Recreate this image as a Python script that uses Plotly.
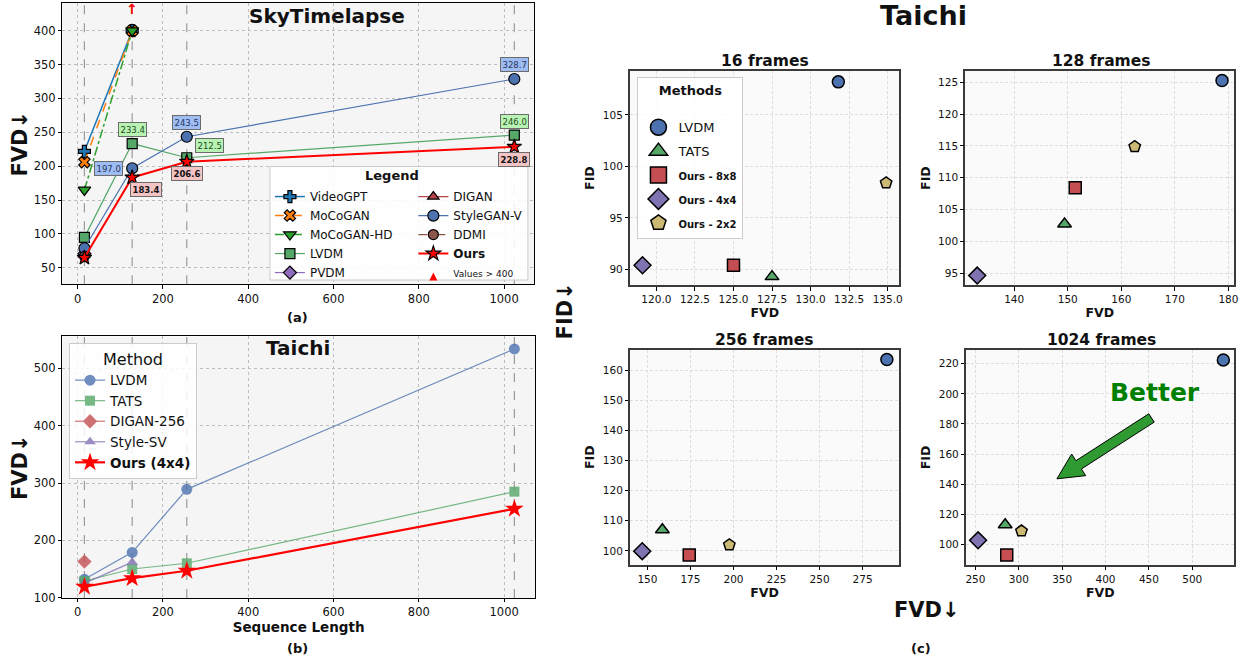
import plotly.graph_objects as go

W, H = 1251, 666
FONT = "DejaVu Sans"
INK = "#111111"

# ---------------- data ----------------
seq_lengths = [16, 128, 256, 1024]

# (a) SkyTimelapse FVD (values > 400 are shown clipped at 400)
sky_clip_value = 400
sky_videogpt = [222, 400]
sky_mocogan = [206, 400]
sky_mocogan_hd = [165, 400]
sky_lvdm = [95.0, 233.4, 212.5, 246.0]
sky_pvdm = [71]
sky_digan = [69]
sky_stylegan_v = [79.0, 197.0, 243.5, 328.7]
sky_ddmi = [67]
sky_ours = [65.0, 183.4, 206.6, 228.8]

# (b) Taichi FVD
taichi_lvdm = [132, 179, 289, 534]
taichi_tats = [129, 150, 160, 285]
taichi_digan_256 = [163]
taichi_style_sv = [125, 162]
taichi_ours = [119, 134, 147, 255]

# (c) Taichi FVD vs FID
c_methods = ["LVDM", "TATS", "Ours - 8x8", "Ours - 4x4", "Ours - 2x2"]
frame_titles = ["16 frames", "128 frames", "256 frames", "1024 frames"]
fvd_16 = [131.8, 127.5, 125.0, 119.1, 134.9]
fid_16 = [108.2, 89.3, 90.4, 90.4, 98.4]
fvd_128 = [178.8, 149.4, 151.4, 133.1, 162.5]
fid_128 = [125.3, 102.7, 108.4, 94.6, 114.9]
fvd_256 = [289.1, 158.7, 174.3, 147.0, 197.6]
fid_256 = [163.6, 107.0, 98.6, 99.9, 102.0]
fvd_1024 = [535.8, 284.3, 286.1, 253.1, 303.1]
fid_1024 = [222.6, 113.0, 92.8, 102.6, 108.8]

# ---------------- helpers ----------------
def xdom(l, r):
    return [l / W, r / W]

def ydom(t, b):
    return [1 - b / H, 1 - t / H]

def px(x):
    return x / W

def py(y):
    return 1 - y / H

def axis(domain, anchor, rng, dtick, tick0=0, tickfont=11.5, gridcolor="#bdbdbd",
         griddash="dot", linecolor="#000000", linewidth=1, title=None, title_size=12,
         standoff=None, tickformat=None):
    d = dict(domain=domain, anchor=anchor, range=rng, dtick=dtick, tick0=tick0,
             showline=True, mirror=True, linecolor=linecolor, linewidth=linewidth,
             ticks="outside", ticklen=3.5, tickwidth=1, tickcolor="#000000",
             tickfont=dict(size=tickfont, color=INK, family=FONT),
             showgrid=True, gridcolor=gridcolor, griddash=griddash, gridwidth=0.8,
             zeroline=False, fixedrange=True)
    if tickformat:
        d["tickformat"] = tickformat
    if title:
        t = dict(text=f"<b>{title}</b>", font=dict(size=title_size, color=INK, family=FONT))
        if standoff is not None:
            t["standoff"] = standoff
        d["title"] = t
    return d

fig = go.Figure()

# ---------------- panel (a) ----------------
def sky_trace(yvals, name, color, symbol, dash, lw, size, legend):
    return go.Scatter(x=seq_lengths[:len(yvals)], y=yvals, name=name, mode="lines+markers",
                      line=dict(color=color, width=lw, dash=dash),
                      marker=dict(symbol=symbol, size=size, color=color,
                                  line=dict(color="#000000", width=1.2)),
                      xaxis="x", yaxis="y", legend=legend)

fig.add_trace(sky_trace(sky_videogpt, "VideoGPT", "#1f77b4", "cross", "solid", 1.5, 10, "legend"))
fig.add_trace(sky_trace(sky_mocogan, "MoCoGAN", "#ff7f0e", "x", "dash", 1.5, 10, "legend"))
fig.add_trace(sky_trace(sky_mocogan_hd, "MoCoGAN-HD", "#2ca02c", "triangle-down", "dashdot", 1.5, 11, "legend"))
fig.add_trace(sky_trace(sky_lvdm, "LVDM", "#55a868", "square", "solid", 1.2, 10, "legend"))
fig.add_trace(sky_trace(sky_pvdm, "PVDM", "#8f6cc0", "diamond", "solid", 1.2, 10, "legend"))
fig.add_trace(sky_trace(sky_digan, "DIGAN", "#b5464a", "triangle-up", "solid", 1.2, 10, "legend2"))
fig.add_trace(sky_trace(sky_stylegan_v, "StyleGAN-V", "#4c72b0", "circle", "solid", 1.2, 11, "legend2"))
fig.add_trace(sky_trace(sky_ddmi, "DDMI", "#8c564b", "circle", "dash", 1.2, 10, "legend2"))
fig.add_trace(sky_trace(sky_ours, "<b>Ours</b>", "#ff0000", "star", "solid", 2.0, 11, "legend2"))
fig.add_trace(go.Scatter(x=[None], y=[None], mode="markers", name="<span style='font-size:9px'>Values &gt; 400</span>",
                         marker=dict(symbol="arrow-up", size=8, color="#ff0000"),
                         xaxis="x", yaxis="y", legend="legend2"))

# ---------------- panel (b) ----------------
def taichi_trace(yvals, name, color, symbol, lw, size, opacity=0.8):
    return go.Scatter(x=seq_lengths[:len(yvals)], y=yvals, name=name, mode="lines+markers",
                      line=dict(color=color, width=lw), opacity=opacity,
                      marker=dict(symbol=symbol, size=size, color=color, line=dict(width=0)),
                      xaxis="x2", yaxis="y2", legend="legend3")

fig.add_trace(taichi_trace(taichi_lvdm, "LVDM", "#4c72b0", "circle", 1.2, 11))
fig.add_trace(taichi_trace(taichi_tats, "TATS", "#55a868", "square", 1.2, 10))
fig.add_trace(taichi_trace(taichi_digan_256, "DIGAN-256", "#c44e52", "diamond", 1.2, 11))
fig.add_trace(taichi_trace(taichi_style_sv, "Style-SV", "#8172b2", "triangle-up", 1.2, 10))
fig.add_trace(taichi_trace(taichi_ours, "<b>Ours (4x4)</b>", "#ff0000", "star", 2.2, 14, opacity=1.0))

# ---------------- panel (c) ----------------
c_colors = ["#4c72b0", "#55a868", "#c44e52", "#8172b2", "#ccb974"]
c_symbols = ["circle", "triangle-up", "square", "diamond", "pentagon"]
c_sizes = [12, 12, 12, 13, 12]
c_fvd = [fvd_16, fvd_128, fvd_256, fvd_1024]
c_fid = [fid_16, fid_128, fid_256, fid_1024]

for k in range(4):
    xa, ya = f"x{k + 3}", f"y{k + 3}"
    for m in range(len(c_methods)):
        fig.add_trace(go.Scatter(x=[c_fvd[k][m]], y=[c_fid[k][m]], mode="markers",
                                 name=c_methods[m], showlegend=False,
                                 marker=dict(symbol=c_symbols[m], size=c_sizes[m], color=c_colors[m],
                                             line=dict(color="#000000", width=1.5)),
                                 xaxis=xa, yaxis=ya))

c_legend_names = ["LVDM", "TATS",
                  "<b><span style='font-size:10px'>Ours - 8x8</span></b>",
                  "<b><span style='font-size:10px'>Ours - 4x4</span></b>",
                  "<b><span style='font-size:10px'>Ours - 2x2</span></b>"]
for m in range(len(c_methods)):
    fig.add_trace(go.Scatter(x=[None], y=[None], mode="markers", name=c_legend_names[m],
                             legendgroup=c_methods[m],
                             marker=dict(symbol=c_symbols[m], size=24, color=c_colors[m],
                                         line=dict(color="#000000", width=1.5)),
                             xaxis="x3", yaxis="y3", legend="legend4"))

# ---------------- axes ----------------
dom_a = (xdom(61.7, 535.5), ydom(3.3, 287.3))
dom_b = (xdom(61.7, 536.0), ydom(340.0, 604.3))
dom_c = [(xdom(631.7, 902.0), ydom(71.7, 288.3)),
         (xdom(968.3, 1238.3), ydom(71.7, 288.3)),
         (xdom(631.7, 901.7), ydom(353.3, 570.7)),
         (xdom(969.0, 1238.3), ydom(354.0, 570.7))]

layout = dict(
    width=W, height=H, margin=dict(l=0, r=0, t=0, b=0),
    paper_bgcolor="#ffffff", font=dict(family=FONT, color=INK),
    showlegend=True,
)

layout["xaxis"] = axis(dom_a[0], "y", [-35.5, 1071], 200)
layout["yaxis"] = axis(dom_a[1], "x", [25.8, 440.4], 50, title="FVD↓", title_size=21, standoff=0)
layout["xaxis2"] = axis(dom_b[0], "y2", [-35.5, 1072], 200, title="Sequence Length", title_size=13.5, standoff=4)
layout["yaxis2"] = axis(dom_b[1], "x2", [99.5, 555.8], 100, title="FVD↓", title_size=21, standoff=0)

c_xr = [[118.3, 135.76], [130.9, 181.1], [140.0, 296.2], [239.3, 548.5]]
c_yr = [[88.46, 109.26], [93.07, 126.8], [95.4, 166.9], [86.4, 229.0]]
c_xd = [2.5, 10, 25, 50]
c_yd = [5, 5, 10, 20]
c_xf = [".1f", None, None, None]
for k in range(4):
    n = k + 3
    layout[f"xaxis{n}"] = axis(dom_c[k][0], f"y{n}", c_xr[k], c_xd[k], tickfont=10.5,
                               gridcolor="#dedede", griddash="3px,2px", linecolor="#3a3a3a", linewidth=1.5,
                               title="FVD", title_size=12.5, standoff=2, tickformat=c_xf[k])
    layout[f"yaxis{n}"] = axis(dom_c[k][1], f"x{n}", c_yr[k], c_yd[k], tickfont=10.5,
                               gridcolor="#dedede", griddash="3px,2px", linecolor="#3a3a3a", linewidth=1.5,
                               title="FID", title_size=12.5, standoff=5)

fig.update_layout(**layout)
fig.update_layout(plot_bgcolor="#f5f5f5")

# per-subplot background via shapes (c panels lighter)
shapes = []
for k in range(4):
    shapes.append(dict(type="rect", xref="paper", yref="paper",
                       x0=dom_c[k][0][0], x1=dom_c[k][0][1], y0=dom_c[k][1][0], y1=dom_c[k][1][1],
                       fillcolor="#fafafa", line=dict(width=0), layer="below"))

# vertical reference lines at the evaluated sequence lengths
for xa, ya in (("x", "y"), ("x2", "y2")):
    for xv in seq_lengths:
        shapes.append(dict(type="line", xref=xa, yref=f"{ya} domain", x0=xv, x1=xv, y0=0, y1=1,
                           line=dict(color="#9a9a9a", width=1.2, dash="dash"), layer="below"))

# legend box for panel (a)
shapes.append(dict(type="rect", xref="paper", yref="paper",
                   x0=px(270), x1=px(529), y0=py(283), y1=py(168.3),
                   fillcolor="rgba(255,255,255,0.88)", line=dict(color="#cccccc", width=1), layer="above"))

# "Better" arrow in 1024-frame panel
c4_xr, c4_yr = c_xr[3], c_yr[3]
c4_px = (969.0, 1238.3)
c4_py = (354.0, 570.7)

def d2p(x, y):
    X = c4_px[0] + (x - c4_xr[0]) / (c4_xr[1] - c4_xr[0]) * (c4_px[1] - c4_px[0])
    Y = c4_py[1] - (y - c4_yr[0]) / (c4_yr[1] - c4_yr[0]) * (c4_py[1] - c4_py[0])
    return X, Y

def p2d(X, Y):
    x = c4_xr[0] + (X - c4_px[0]) / (c4_px[1] - c4_px[0]) * (c4_xr[1] - c4_xr[0])
    y = c4_yr[0] + (c4_py[1] - Y) / (c4_py[1] - c4_py[0]) * (c4_yr[1] - c4_yr[0])
    return x, y

arrow_start, arrow_tip = (453, 184), (344, 143.5)
sx, sy = d2p(*arrow_start)
tx, ty = d2p(*arrow_tip)
dx, dy = tx - sx, ty - sy
L = (dx ** 2 + dy ** 2) ** 0.5
ux, uy = dx / L, dy / L
nx, ny = -uy, ux
head_len, head_hw, shaft_hw = 26, 13, 5
bx, by = tx - head_len * ux, ty - head_len * uy
pts = [(sx + shaft_hw * nx, sy + shaft_hw * ny),
       (bx + shaft_hw * nx, by + shaft_hw * ny),
       (bx + head_hw * nx, by + head_hw * ny),
       (tx, ty),
       (bx - head_hw * nx, by - head_hw * ny),
       (bx - shaft_hw * nx, by - shaft_hw * ny),
       (sx - shaft_hw * nx, sy - shaft_hw * ny)]
dpts = [p2d(X, Y) for X, Y in pts]
path = "M " + " L ".join(f"{x:.3f},{y:.3f}" for x, y in dpts) + " Z"
shapes.append(dict(type="path", xref="x6", yref="y6", path=path,
                   fillcolor="#2f9a32", line=dict(color="#000000", width=1), layer="above"))

fig.update_layout(shapes=shapes)

# ---------------- annotations ----------------
ann = []

def value_label(xv, yv, bg, fg, bold, xs, ys):
    txt = f"{yv:.1f}"
    if bold:
        txt = f"<b>{txt}</b>"
    return dict(x=xv, y=yv, xref="x", yref="y", text=txt, showarrow=False, xshift=xs, yshift=ys,
                bgcolor=bg, bordercolor="#6b6b6b", borderwidth=1, borderpad=1.5,
                font=dict(size=8.5, color=fg, family=FONT))

blue_bg, green_bg, red_bg = "#9fbcf3", "#b8f3b3", "#f4c4c4"
sv_shift = [None, (-24, 0), (0, 14), (0, 14)]
lv_shift = [None, (0, 14), (23, 12), (0, 14)]
ou_shift = [None, (14, -12), (0, -12), (0, -13)]
for i in range(1, 4):
    ann.append(value_label(seq_lengths[i], sky_stylegan_v[i], blue_bg, "#24365e", False, *sv_shift[i]))
    ann.append(value_label(seq_lengths[i], sky_lvdm[i], green_bg, "#1d4d1d", False, *lv_shift[i]))
    ann.append(value_label(seq_lengths[i], sky_ours[i], red_bg, "#111111", True, *ou_shift[i]))

# clipped-value arrow
ann.append(dict(x=seq_lengths[1], y=sky_clip_value, xref="x", yref="y", text="<b>↑</b>",
                showarrow=False, yshift=22, font=dict(size=14, color="#ff0000", family=FONT)))

def txt(x, y, s, size, bold=True, color=INK, angle=0):
    return dict(x=px(x), y=py(y), xref="paper", yref="paper", text=(f"<b>{s}</b>" if bold else s),
                showarrow=False, xanchor="center", yanchor="middle", textangle=angle,
                font=dict(size=size, color=color, family=FONT))

ann.append(txt(327, 16, "SkyTimelapse", 20))
ann.append(txt(392.7, 177.3, "Legend", 13))
ann.append(txt(298, 321, "(a)", 13))
ann.append(txt(298, 352, "Taichi", 20))
ann.append(txt(298, 655, "(b)", 13))
ann.append(txt(926, 16, "Taichi", 27))
ann.append(txt(566, 314, "FID↓", 21, angle=-90))
ann.append(txt(930, 616, "FVD↓", 21))
ann.append(txt(924, 655, "(c)", 13))
title_pos = [(766.7, 61.7), (1105, 61.7), (766.7, 344), (1105, 344)]
for k in range(4):
    ann.append(txt(title_pos[k][0], title_pos[k][1], frame_titles[k], 15.5))

better_x, better_y = p2d(1158.3, 396.7)
ann.append(dict(x=better_x, y=better_y, xref="x6", yref="y6", text="<b>Better</b>", showarrow=False,
                font=dict(size=25, color="#008000", family=FONT)))

fig.update_layout(annotations=ann)

# ---------------- legends ----------------
leg_common = dict(xanchor="left", yanchor="top", bgcolor="rgba(0,0,0,0)", borderwidth=0,
                  font=dict(size=12, color=INK, family=FONT), itemwidth=30, tracegroupgap=0)
fig.update_layout(
    legend=dict(x=px(270), y=py(184), **leg_common),
    legend2=dict(x=px(414), y=py(184), **leg_common),
    legend3=dict(x=px(68.3), y=py(346.7), xanchor="left", yanchor="top",
                 bgcolor="rgba(255,255,255,0.85)", bordercolor="#cccccc", borderwidth=1,
                 font=dict(size=13.5, color=INK, family=FONT), itemwidth=30,
                 title=dict(text="Method", side="top center", font=dict(size=16, color=INK, family=FONT))),
    legend4=dict(x=px(639), y=py(78.3), xanchor="left", yanchor="top",
                 bgcolor="rgba(255,255,255,0.85)", bordercolor="#cccccc", borderwidth=1,
                 font=dict(size=13, color=INK, family=FONT), itemwidth=30, tracegroupgap=4,
                 itemsizing="trace",
                 title=dict(text="<b>Methods</b><br> ", side="top center", font=dict(size=13, color=INK, family=FONT))),
)

fig.write_html("out.html", config={"displayModeBar": False},
               post_script="document.body.style.margin='0';")
